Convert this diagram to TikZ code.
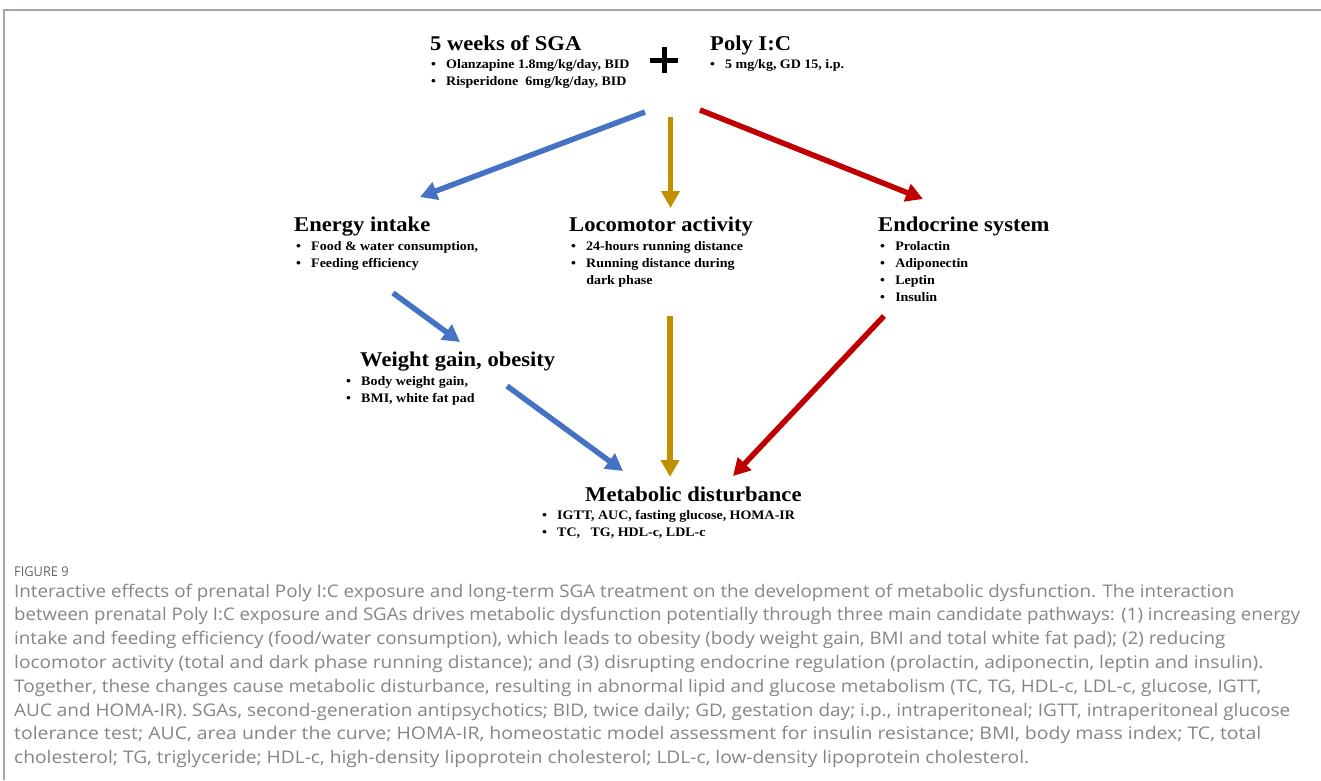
\documentclass[tikz,border=0pt]{standalone}
\usepackage{graphicx}
\usepackage{fontspec}
\setmainfont{Liberation Serif}
\newfontfamily\capfont{Open Sans}
\usetikzlibrary{arrows.meta}
\definecolor{cblue}{HTML}{4472C4}
\definecolor{cgold}{HTML}{BF9000}
\definecolor{cred}{HTML}{C00000}
\definecolor{capgray}{HTML}{858585}
\definecolor{framegray}{HTML}{A3A3B3}
\tikzset{
  head/.style={anchor=base west, inner sep=0pt, font=\fontsize{21}{24}\selectfont\bfseries},
  items/.style={anchor=base west, inner sep=0pt, font=\fontsize{13}{17}\selectfont\bfseries, align=left},
  flow/.style={line width=5.5pt, -{Triangle[length=17pt,width=18pt]}},
  capline/.style={anchor=base west, inner sep=0pt, text=capgray, font=\capfont\fontsize{17.4}{20}\selectfont},
}
\newcommand{\dx}[1]{\scalebox{1.075}[1]{#1}}
\newcommand{\cw}[2]{\resizebox{#1pt}{\height}{#2}}
\newcommand{\blist}[1]{\scalebox{1.075}[1]{\begin{tabular}[t]{@{}p{14pt}@{}l@{}}#1\end{tabular}}}
\begin{document}
\begin{tikzpicture}[x=1pt,y=-1pt]
\useasboundingbox (0,0) rectangle (1321,780);
% frame
\draw[framegray, line width=1.3pt] (4,780) -- (4,10) -- (1321,10);
% top
\node[head] (sga) at (430,50) {\dx{5 weeks of SGA}};
\node[items] (sgal) at (431,68) {\blist{\textbullet & Olanzapine 1.8mg/kg/day, BID\\ \textbullet & Risperidone\ \ 6mg/kg/day, BID}};
\node[head] (poly) at (710,50) {\dx{Poly I:C}};
\node[items] (polyl) at (710,68) {\blist{\textbullet & 5 mg/kg, GD 15, i.p.}};
\coordinate (plus) at (664,60);
\draw[line width=5pt] ([xshift=-14pt]plus) -- ([xshift=14pt]plus);
\draw[line width=5pt] ([yshift=-13pt]plus) -- ([yshift=13pt]plus);
% middle
\node[head] (energy) at (294,231) {\dx{Energy intake}};
\node[items] (energyl) at (296,250) {\blist{\textbullet & Food \& water consumption,\\ \textbullet & Feeding efficiency}};
\node[head] (loco) at (569,231) {\dx{Locomotor activity}};
\node[items] (locol) at (571,250) {\blist{\textbullet & 24-hours running distance\\ \textbullet & Running distance during\\ & dark phase}};
\node[head] (endo) at (878,231) {\dx{Endocrine system}};
\node[items] (endol) at (880,250) {\blist{\textbullet & Prolactin\\ \textbullet & Adiponectin\\ \textbullet & Leptin\\ \textbullet & Insulin}};
\node[head] (weight) at (360,366) {\dx{Weight gain, obesity}};
\node[items] (weightl) at (346,385) {\blist{\textbullet & Body weight gain,\\ \textbullet & BMI, white fat pad}};
\node[head] (meta) at (585,501) {\dx{Metabolic disturbance}};
\node[items] (metal) at (542,519) {\blist{\textbullet & IGTT, AUC, fasting glucose, HOMA-IR\\ \textbullet & TC,\ \ \ TG, HDL-c, LDL-c}};
% arrow coordinates
\coordinate (b1s) at (645,112); \coordinate (b1e) at (420,197);
\coordinate (g1s) at (670.5,117); \coordinate (g1e) at (670.5,208);
\coordinate (r1s) at (700,110); \coordinate (r1e) at (923,199);
\coordinate (b2s) at (393,293); \coordinate (b2e) at (460,342);
\coordinate (g2s) at (670,316); \coordinate (g2e) at (670,477);
\coordinate (r2s) at (884,316); \coordinate (r2e) at (733,476);
\coordinate (b3s) at (507,386); \coordinate (b3e) at (623,471);
\draw[flow, cblue] (b1s) -- (b1e);
\draw[flow, cgold] (g1s) -- (g1e);
\draw[flow, cred] (r1s) -- (r1e);
\draw[flow, cblue] (b2s) -- (b2e);
\draw[flow, cgold] (g2s) -- (g2e);
\draw[flow, cred] (r2s) -- (r2e);
\draw[flow, cblue] (b3s) -- (b3e);
% caption
\node[anchor=base west, inner sep=0pt, text=black!60, font=\capfont\fontsize{13.5}{16}\selectfont] (fig) at (14,576) {\scalebox{0.95}[1]{FIGURE 9}};
\node[capline] (c1) at (14,597) {\cw{1220}{Interactive effects of prenatal Poly I:C exposure and long-term SGA treatment on the development of metabolic dysfunction. The interaction}};
\node[capline] (c2) at (14,620.8) {\cw{1286}{between prenatal Poly I:C exposure and SGAs drives metabolic dysfunction potentially through three main candidate pathways: (1) increasing energy}};
\node[capline] (c3) at (14,644.6) {\cw{1211}{intake and feeding efficiency (food/water consumption), which leads to obesity (body weight gain, BMI and total white fat pad); (2) reducing}};
\node[capline] (c4) at (14,668.4) {\cw{1249}{locomotor activity (total and dark phase running distance); and (3) disrupting endocrine regulation (prolactin, adiponectin, leptin and insulin).}};
\node[capline] (c5) at (14,692.2) {\cw{1247}{Together, these changes cause metabolic disturbance, resulting in abnormal lipid and glucose metabolism (TC, TG, HDL-c, LDL-c, glucose, IGTT,}};
\node[capline] (c6) at (14,716) {\cw{1276}{AUC and HOMA-IR). SGAs, second-generation antipsychotics; BID, twice daily; GD, gestation day; i.p., intraperitoneal; IGTT, intraperitoneal glucose}};
\node[capline] (c7) at (14,739.8) {\cw{1247}{tolerance test; AUC, area under the curve; HOMA-IR, homeostatic model assessment for insulin resistance; BMI, body mass index; TC, total}};
\node[capline] (c8) at (14,763.6) {\cw{1015}{cholesterol; TG, triglyceride; HDL-c, high-density lipoprotein cholesterol; LDL-c, low-density lipoprotein cholesterol.}};
\end{tikzpicture}
\end{document}
